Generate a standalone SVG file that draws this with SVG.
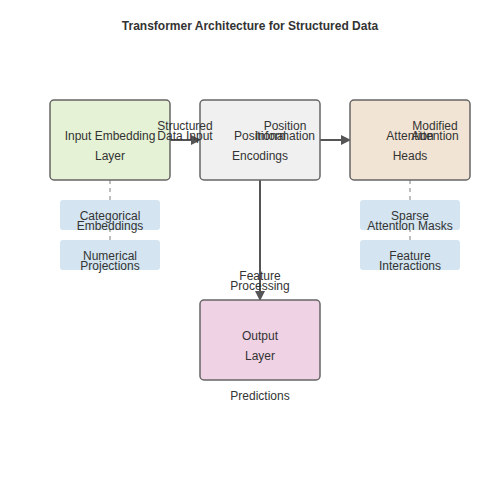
<svg xmlns="http://www.w3.org/2000/svg" width="500" height="500" viewBox="0 0 500 500">
<style>
text{font-family:"Liberation Sans",Arial,sans-serif;font-size:12px;fill:#333;text-anchor:middle}
.title{font-weight:bold}
.node{stroke:#666;stroke-width:1.5}
.sub{fill:#d4e5f1;stroke:none}
.edge{stroke:#555;stroke-width:2;fill:none}
.dash{stroke:#aaa;stroke-width:1.5;stroke-dasharray:4,4;fill:none}
</style>
<defs>
<marker id="arr" viewBox="0 0 10 10" refX="9" refY="5" markerWidth="5" markerHeight="5" orient="auto" markerUnits="strokeWidth">
<path d="M0,0 L10,5 L0,10 z" fill="#555"/>
</marker>
</defs>
<rect width="500" height="500" fill="#fff"/>
<text class="title" x="250" y="30">Transformer Architecture for Structured Data</text>
<g id="dashes">
<line class="dash" x1="110" y1="180" x2="110" y2="240"/>
<line class="dash" x1="410" y1="180" x2="410" y2="240"/>
</g>
<g id="connectors">
<line class="edge" x1="170" y1="140" x2="200" y2="140" marker-end="url(#arr)"/>
<line class="edge" x1="320" y1="140" x2="350" y2="140" marker-end="url(#arr)"/>
<line class="edge" x1="260" y1="180" x2="260" y2="300" marker-end="url(#arr)"/>
</g>
<g id="input">
<rect class="node" x="50" y="100" width="120" height="80" rx="4" fill="#e5f2d5"/>
<text x="110" y="140">Input Embedding</text>
<text x="110" y="160">Layer</text>
</g>
<g id="positional">
<rect class="node" x="200" y="100" width="120" height="80" rx="4" fill="#f0f0f0"/>
<text x="260" y="140">Positional</text>
<text x="260" y="160">Encodings</text>
</g>
<g id="attention">
<rect class="node" x="350" y="100" width="120" height="80" rx="4" fill="#f2e4d4"/>
<text x="410" y="140">Attention</text>
<text x="410" y="160">Heads</text>
</g>
<g id="output">
<rect class="node" x="200" y="300" width="120" height="80" rx="4" fill="#f0d2e5"/>
<text x="260" y="340">Output</text>
<text x="260" y="360">Layer</text>
</g>
<g id="categorical">
<rect class="sub" x="60" y="200" width="100" height="30" rx="3"/>
<text x="110" y="220">Categorical</text>
<text x="110" y="230">Embeddings</text>
</g>
<g id="numerical">
<rect class="sub" x="60" y="240" width="100" height="30" rx="3"/>
<text x="110" y="260">Numerical</text>
<text x="110" y="270">Projections</text>
</g>
<g id="sparse">
<rect class="sub" x="360" y="200" width="100" height="30" rx="3"/>
<text x="410" y="220">Sparse</text>
<text x="410" y="230">Attention Masks</text>
</g>
<g id="interactions">
<rect class="sub" x="360" y="240" width="100" height="30" rx="3"/>
<text x="410" y="260">Feature</text>
<text x="410" y="270">Interactions</text>
</g>
<g id="labels">
<text x="185" y="130">Structured</text>
<text x="185" y="140">Data Input</text>
<text x="285" y="130">Position</text>
<text x="285" y="140">Information</text>
<text x="435" y="130">Modified</text>
<text x="435" y="140">Attention</text>
<text x="260" y="280">Feature</text>
<text x="260" y="290">Processing</text>
<text x="260" y="400">Predictions</text>
</g>
</svg>
